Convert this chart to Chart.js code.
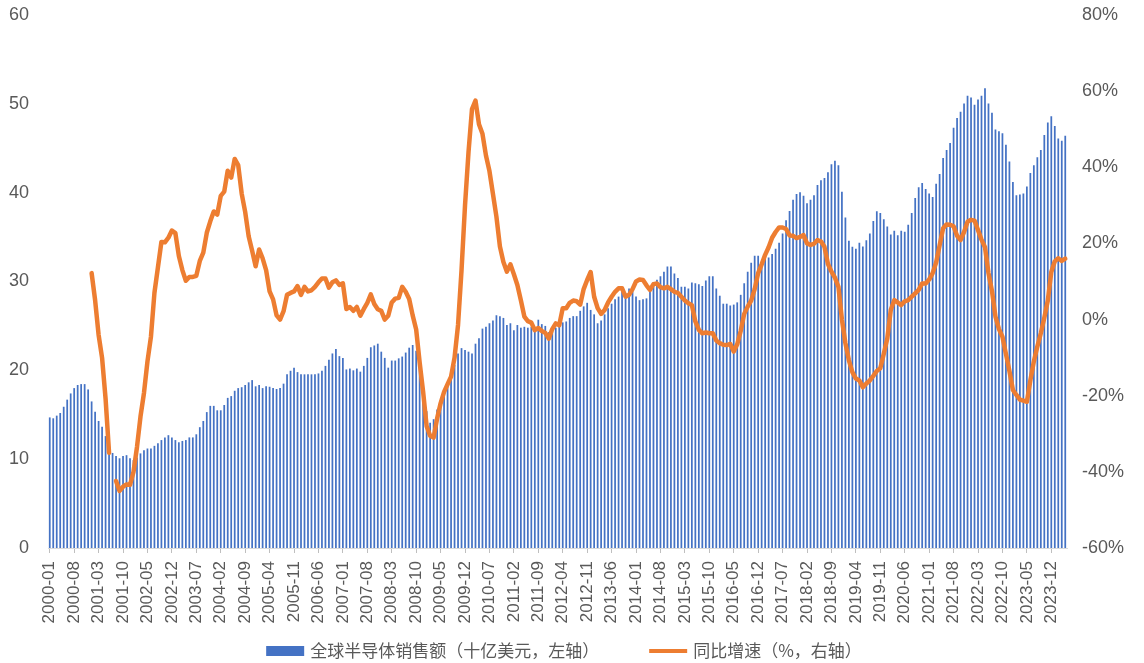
<!DOCTYPE html>
<html>
<head>
<meta charset="utf-8">
<script src="https://cdn.jsdelivr.net/npm/chart.js@4.4.1/dist/chart.umd.min.js"></script>
<style>
  html, body { margin: 0; padding: 0; background: #fff; }
  #wrap { width: 1144px; height: 663px; }
</style>
</head>
<body>
<div id="wrap"><canvas id="semiChart" width="1144" height="663"></canvas></div>
<script>
    // monthly categories 2000-01 .. 2024-04
    const firstYear = 2000;
    const lastYear = 2024;
    const lastMonth = 4;
    const tickStep = 7;

    // global semiconductor sales, billion USD (left axis), one row per year
    const salesBn = [
        14.7, 14.6, 14.9, 15.2, 15.9, 16.7, 17.4, 18.0, 18.35, 18.45, 18.45, 17.85,
        16.5, 15.35, 14.3, 13.65, 12.6, 11.2, 10.7, 10.35, 10.1, 10.35, 10.45, 10.1,
        9.9, 10.2, 10.65, 11.0, 11.2, 11.2, 11.5, 11.8, 12.15, 12.45, 12.7, 12.45,
        12.15, 11.9, 12.05, 12.15, 12.45, 12.45, 12.8, 13.6, 14.3, 15.3, 16.0, 16.0,
        15.5, 15.5, 16.1, 16.9, 17.1, 17.7, 18.0, 18.1, 18.35, 18.65, 18.9, 18.2,
        18.35, 18.0, 18.2, 18.15, 18.0, 17.9, 18.0, 18.5, 19.55, 19.95, 20.3, 19.8,
        19.55, 19.55, 19.55, 19.55, 19.55, 19.65, 19.95, 20.5, 21.2, 21.9, 22.4, 21.6,
        21.4, 20.1, 20.2, 20.0, 20.2, 19.85, 20.5, 21.4, 22.6, 22.8, 23.0, 22.1,
        21.4, 20.3, 21.1, 21.1, 21.35, 21.55, 22.0, 22.55, 22.85, 22.2, 20.4, 17.9,
        15.4, 14.1, 14.5, 15.6, 16.6, 17.4, 18.2, 19.2, 20.6, 21.9, 22.5, 22.3,
        22.1, 21.9, 23.0, 23.6, 24.7, 24.9, 25.3, 25.6, 26.2, 26.1, 25.9, 25.1,
        25.3, 24.5, 25.1, 24.8, 24.9, 24.8, 24.9, 24.8, 25.7, 25.2, 25.0, 24.3,
        24.8, 24.8, 25.1, 25.4, 25.5, 25.9, 26.1, 26.1, 26.7, 27.2, 27.6, 26.8,
        26.3, 25.3, 25.6, 26.3, 27.0, 27.5, 28.0, 28.3, 28.9, 28.7, 29.2, 28.9,
        28.3, 27.9, 28.0, 28.1, 29.0, 29.9, 30.2, 30.6, 31.1, 31.7, 31.7, 30.9,
        30.4, 29.4, 29.4, 29.2, 29.9, 29.8, 29.7, 29.5, 30.1, 30.6, 30.6, 29.2,
        28.4, 27.5, 27.5, 27.3, 27.4, 27.65, 28.5, 29.8, 31.1, 32.1, 32.9, 32.9,
        32.1, 33.0, 32.7, 33.1, 33.7, 34.35, 35.4, 36.9, 37.95, 39.2, 39.85, 40.05,
        39.65, 38.8, 39.2, 39.7, 40.85, 41.4, 41.65, 42.3, 43.2, 43.6, 43.1, 40.1,
        37.2, 34.6, 33.9, 33.7, 34.35, 33.95, 34.65, 35.4, 36.8, 37.9, 37.7, 37.0,
        36.2, 35.3, 35.7, 35.2, 35.7, 35.6, 36.4, 37.7, 39.4, 40.6, 41.1, 40.4,
        39.9, 39.5, 41.0, 42.1, 43.9, 44.8, 45.6, 47.3, 48.4, 49.1, 50.05, 50.9,
        50.7, 49.9, 50.5, 50.9, 51.75, 50.05, 49.0, 47.1, 46.9, 46.7, 45.4, 43.5,
        41.2, 39.7, 39.8, 39.9, 40.7, 42.2, 43.1, 44.0, 44.8, 46.5, 47.9, 48.6,
        47.5, 46.1, 45.85, 46.4
    ];

    // year-on-year growth, % (right axis)
    const yoyPct = [
        null, null, null, null, null, null, null, null, null, null, null, null,
        12.2, 5.1, -4.0, -10.1, -20.8, -35.0, null, -42.4, -45.0, -43.9, -43.3, -43.4,
        -40.0, -33.5, -25.5, -19.3, -11.0, -4.5, 7.0, 13.7, 20.4, 20.3, 21.5, 23.4,
        22.7, 16.7, 13.0, 10.2, 11.2, 11.2, 11.5, 15.4, 17.6, 22.8, 25.8, 28.4,
        27.6, 32.5, 33.6, 39.1, 37.3, 42.2, 40.6, 33.1, 28.3, 21.9, 18.1, 14.0,
        18.4, 16.1, 13.0, 7.4, 5.3, 1.1, 0.0, 2.2, 6.5, 7.0, 7.4, 8.8,
        6.5, 8.6, 7.4, 7.7, 8.6, 9.8, 10.8, 10.8, 8.4, 9.8, 10.3, 9.1,
        9.5, 2.8, 3.3, 2.3, 3.3, 1.0, 2.8, 4.4, 6.6, 4.1, 2.7, 2.3,
        0.0, 1.0, 4.5, 5.5, 5.7, 8.6, 7.3, 5.4, 1.1, -2.6, -11.3, -19.0,
        -28.0, -30.5, -31.0, -26.0, -22.0, -19.0, -17.0, -15.0, -10.0, -1.4, 13.0, 30.0,
        44.0, 55.3, 57.5, 51.3, 48.8, 43.1, 39.0, 33.0, 27.0, 19.2, 15.1, 12.6,
        14.5, 11.9, 9.1, 5.1, 0.8, -0.4, -0.8, -2.8, -2.2, -3.0, -3.5, -5.0,
        -2.5, -1.0, -1.5, 3.0, 3.0, 4.4, 5.0, 4.8, 3.9, 8.0, 10.4, 12.5,
        6.0, 3.0, 1.5, 2.5, 4.5, 6.0, 7.3, 8.2, 8.2, 6.0, 6.5, 8.0,
        10.0, 10.5, 10.4, 9.0, 7.8, 9.3, 9.5, 8.5, 8.2, 8.6, 8.0, 7.3,
        7.0, 6.0, 5.0, 4.3, 3.8, -0.5, -2.7, -3.6, -3.4, -3.6, -3.6, -5.5,
        -6.2, -6.6, -6.7, -6.4, -8.4, -6.5, -3.0, 1.5, 3.4, 5.0, 8.0, 12.2,
        14.5, 17.0, 19.0, 21.5, 23.0, 24.2, 24.2, 23.8, 22.1, 22.0, 21.4, 21.7,
        22.2, 20.0, 19.6, 19.9, 20.9, 20.5, 19.1, 14.6, 12.6, 11.0, 8.6, 0.0,
        -6.2, -10.7, -13.8, -15.5, -16.0, -17.8, -16.8, -16.0, -14.8, -13.5, -12.8, -9.0,
        -5.0, 2.5, 5.1, 4.5, 3.8, 4.8, 5.1, 6.0, 6.9, 7.8, 9.5, 9.5,
        10.5, 12.2, 15.0, 19.5, 24.0, 25.0, 24.9, 24.5, 22.0, 20.9, 23.0, 25.7,
        26.2, 26.0, 23.5, 21.0, 19.0, 12.2, 7.5, 0.8, -2.5, -4.5, -9.0, -13.5,
        -18.5, -19.8, -21.0, -21.3, -21.6, -16.0, -11.0, -7.1, -3.6, 0.5, 5.0, 12.5,
        15.3, 16.1, 15.4, 16.0
    ];

    const monthLabels = [];
    for (let y = firstYear; y <= lastYear; y++) {
        const last = (y === lastYear) ? lastMonth : 12;
        for (let m = 1; m <= last; m++) {
            monthLabels.push(y + '-' + String(m).padStart(2, '0'));
        }
    }

    const axisGrey = '#595959';
    const tickFont = { family: 'Liberation Sans', size: 17 };
    const yFont = { family: 'Liberation Sans', size: 18 };

    // bottom legend: wide gap between the two entries, so it is drawn here
    const bottomLegend = {
        id: 'bottomLegend',
        afterDraw(chart) {
            const c = chart.ctx;
            const sets = chart.data.datasets;
            const markW = 38, gapText = 6, gapItem = 50, cy = 651, centre = 564;
            c.save();
            c.font = '17px "Noto Sans CJK SC"';
            c.textBaseline = 'middle';
            c.fillStyle = axisGrey;
            const w = sets.map(s => c.measureText(s.label).width);
            const total = sets.length * (markW + gapText) + w.reduce((a, b) => a + b, 0) + gapItem * (sets.length - 1);
            let x = centre - total / 2;
            sets.forEach((s, i) => {
                if (s.type === 'bar') {
                    c.fillStyle = s.backgroundColor;
                    c.fillRect(x, cy - 5, markW, 10);
                } else {
                    c.strokeStyle = s.borderColor;
                    c.lineWidth = 4;
                    c.beginPath();
                    c.moveTo(x, cy);
                    c.lineTo(x + markW, cy);
                    c.stroke();
                }
                x += markW + gapText;
                c.fillStyle = axisGrey;
                c.fillText(s.label, x, cy);
                x += w[i] + gapItem;
            });
            c.restore();
        }
    };

    const noPad = (scale) => {
        scale.paddingTop = 0;
        scale.paddingBottom = 0;
        scale.paddingLeft = 0;
        scale.paddingRight = 0;
    };

    const ctx = document.getElementById('semiChart').getContext('2d');
    new Chart(ctx, {
        data: {
            labels: monthLabels,
            datasets: [{
                type: 'bar',
                label: '全球半导体销售额（十亿美元，左轴）',
                data: salesBn,
                yAxisID: 'y',
                backgroundColor: '#4472C4',
                borderWidth: 0,
                barPercentage: 0.5,
                categoryPercentage: 1.0,
                order: 1
            }, {
                type: 'line',
                label: '同比增速（%，右轴）',
                data: yoyPct,
                yAxisID: 'y1',
                borderColor: '#ED7D31',
                backgroundColor: '#ED7D31',
                borderWidth: 4.5,
                pointRadius: 0,
                tension: 0,
                spanGaps: false,
                borderJoinStyle: 'round',
                borderCapStyle: 'round',
                order: 0
            }]
        },
        options: {
            responsive: false,
            animation: false,
            layout: { autoPadding: false, padding: { top: 15, left: 0, right: 0, bottom: 0 } },
            plugins: {
                tooltip: { enabled: false },
                legend: { display: false }
            },
            scales: {
                x: {
                    offset: true,
                    grid: {
                        offset: false,
                        drawOnChartArea: false,
                        drawTicks: true,
                        tickLength: 5,
                        color: (c) => (c.index % tickStep === 0 ? '#bfbfbf' : 'rgba(0,0,0,0)')
                    },
                    border: { display: true, color: '#d9d9d9' },
                    ticks: {
                        autoSkip: false,
                        maxRotation: 90,
                        minRotation: 90,
                        padding: 8,
                        color: axisGrey,
                        font: tickFont,
                        callback: function (val, idx) {
                            return idx % tickStep === 0 ? this.getLabelForValue(val) : '';
                        }
                    },
                    afterFit: (scale) => { scale.height = 115; noPad(scale); }
                },
                y: {
                    position: 'left',
                    min: 0,
                    max: 60,
                    grid: { display: false, drawTicks: false },
                    border: { display: false },
                    ticks: { stepSize: 10, padding: 19, color: axisGrey, font: yFont },
                    afterFit: (scale) => { scale.width = 48; noPad(scale); }
                },
                y1: {
                    position: 'right',
                    min: -60,
                    max: 80,
                    grid: { display: false, drawTicks: false },
                    border: { display: false },
                    ticks: {
                        stepSize: 20,
                        padding: 15,
                        color: axisGrey,
                        font: yFont,
                        callback: (v) => v + '%'
                    },
                    afterFit: (scale) => { scale.width = 77; noPad(scale); }
                }
            }
        },
        plugins: [bottomLegend]
    });
</script>
</body>
</html>
